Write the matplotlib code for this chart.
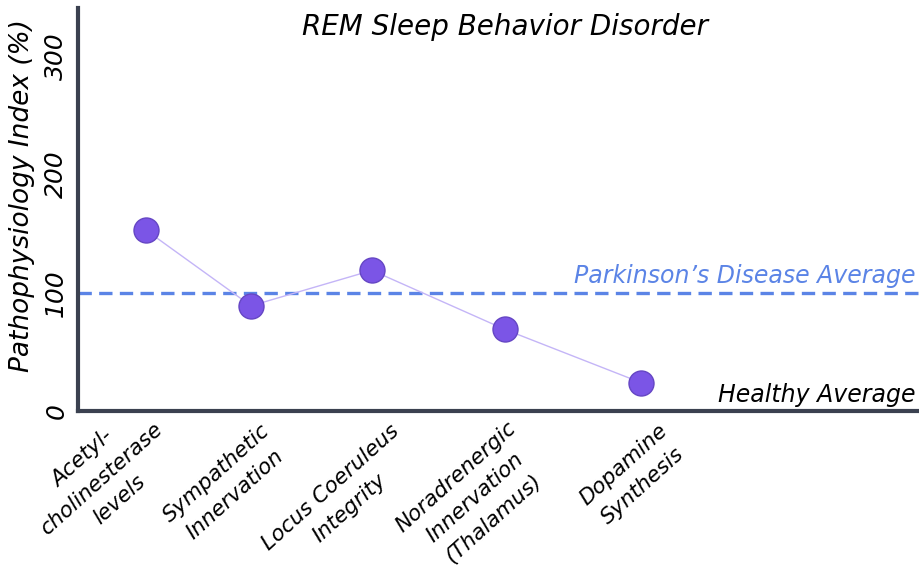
import numpy as np
import matplotlib
matplotlib.use("Agg")
import matplotlib.pyplot as plt
import matplotlib.transforms as mtransforms

# data
labels = ["Acetyl-\ncholinesterase\nlevels",
          "Sympathetic\nInnervation",
          "Locus Coeruleus\nIntegrity",
          "Noradrenergic\nInnervation\n(Thalamus)",
          "Dopamine\nSynthesis"]
xpos = [0.68, 1.73, 2.94, 4.27, 5.63]
values = [153, 89, 119, 69, 24]
pd_avg = 100
healthy_avg = 0
yticks = [0, 100, 200, 300]

# nudge of each tick label (pixels, right / down)
label_dx = [-12, 9, 18, 2, 17]
label_dy = [-25, -3, -3, -6, -3]

plt.rcParams['font.family'] = ['DejaVu Sans']
plt.rcParams['font.style'] = 'oblique'

W, H = 920, 577
fig = plt.figure(figsize=(W/100, H/100), dpi=100)
ax = fig.add_axes([78/W, (H-411)/H, 842/W, (411-8)/H])

axcol = '#3b4150'
ax.axhline(pd_avg, color='#5b84e6', lw=2.4, ls=(0, (4, 2.2)), zorder=1)
ax.plot(xpos, values, color='#c4b5f7', lw=1, zorder=2)
ax.plot(xpos, values, 'o', ms=18, color='#7b55e6', mec='#6546c4', mew=1, zorder=3)

ax.set_xlim(0, 8.42)
ax.set_ylim(0, 341)

for s in ['top', 'right']:
    ax.spines[s].set_visible(False)
for s in ['left', 'bottom']:
    ax.spines[s].set_color(axcol)
    ax.spines[s].set_linewidth(3)

ax.set_yticks(yticks)
ax.set_yticklabels([str(v) for v in yticks], rotation=90, va='center', fontsize=18)
ax.tick_params(axis='y', length=0, pad=7)
ax.set_xticks(xpos)
ax.set_xticklabels(labels, rotation=42, ha='right', rotation_mode='anchor',
                   multialignment='center', fontsize=15.5, linespacing=1.5)
ax.tick_params(axis='x', length=0, pad=4)
for t, dx, dy in zip(ax.get_xticklabels(), label_dx, label_dy):
    off = mtransforms.ScaledTranslation(dx/100, -0.07 - dy/100, fig.dpi_scale_trans)
    t.set_transform(t.get_transform() + off)

ax.set_ylabel("Pathophysiology Index (%)", fontsize=19)
ax.yaxis.set_label_coords(-0.051, 0.535)

ax.text(0.995, pd_avg + 4, "Parkinson\u2019s Disease Average", color='#5b84e6',
        fontsize=17, ha='right', va='bottom', transform=ax.get_yaxis_transform())
ax.text(0.995, healthy_avg + 3, "Healthy Average", color='black',
        fontsize=17, ha='right', va='bottom', transform=ax.get_yaxis_transform())

fig.text(505/W, 1 - 27/H, "REM Sleep Behavior Disorder", fontsize=20,
         ha='center', va='center')

fig.savefig("out.png", dpi=100)
